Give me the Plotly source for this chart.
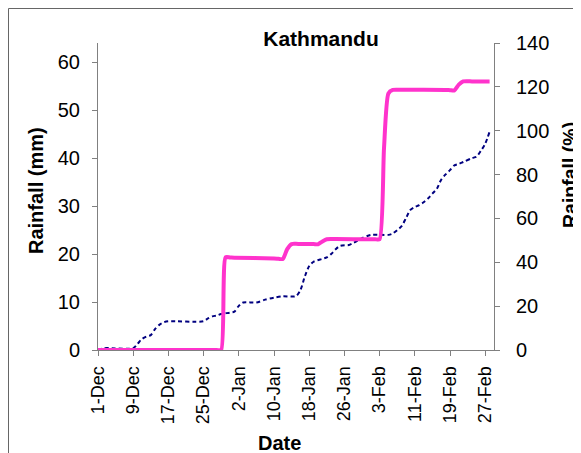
import plotly.graph_objects as go
from datetime import date, timedelta

# ---- data ----
start_date = date(2007, 12, 1)
end_date = date(2008, 2, 29)

# cumulative rainfall (mm), left axis; days counted from 1-Dec
rain_days = [0, 1, 2, 8, 9, 10, 11, 12, 13, 14, 15, 16, 24, 25, 26, 27, 28, 30, 31, 32,
             33, 36, 38, 40, 42, 45, 46, 47, 48, 49, 51, 52, 53, 54, 55, 57, 58, 59, 60,
             62, 66, 67, 68, 69, 70, 71, 72, 73, 74, 75, 76, 77, 78, 79, 80, 81, 82, 83,
             85, 86, 87, 88, 89]
rain_mm = [0, 0.3, 0.4, 0.4, 1.3, 2.3, 2.8, 3.1, 4.4, 5.3, 5.8, 6.0, 6.0, 6.6, 7.0, 7.2,
           7.5, 7.8, 8.0, 9.2, 9.9, 9.9, 10.5, 10.9, 11.2, 11.25, 12.5, 15.3, 17.5, 18.4,
           19.0, 19.3, 20.0, 21.0, 21.7, 21.9, 22.3, 22.8, 23.3, 24.0, 24.0, 24.3, 25.0,
           25.8, 27.5, 29.2, 29.8, 30.2, 30.8, 31.6, 32.6, 33.6, 35.5, 36.6, 37.5, 38.5,
           38.8, 39.2, 40.0, 40.3, 41.5, 43.0, 45.5]

# rainfall (% of normal), right axis
pct_days = [0, 26, 27, 28, 29, 30, 31, 40, 41, 42, 43, 44, 45, 46, 49, 50, 51, 52, 53,
            54, 62, 63, 64, 65, 66, 67, 68, 69, 79, 80, 81, 82, 83, 84, 85, 89]
pct_vals = [0, 0, 0, 0, 42.3, 42.2, 42.1, 41.7, 41.6, 41.5, 46.0, 48.3, 48.4, 48.3,
            48.3, 48.2, 49.5, 50.5, 50.6, 50.6, 50.5, 50.5, 50.5, 92.0, 117.0, 118.6,
            118.7, 118.7, 118.6, 118.5, 118.4, 121.0, 122.5, 122.6, 122.5, 122.5]

tick_dates = ["2007-12-01", "2007-12-09", "2007-12-17", "2007-12-25", "2008-01-02",
              "2008-01-10", "2008-01-18", "2008-01-26", "2008-02-03", "2008-02-11",
              "2008-02-19", "2008-02-27"]
tick_labels = ["1-Dec", "9-Dec", "17-Dec", "25-Dec", "2-Jan", "10-Jan", "18-Jan",
               "26-Jan", "3-Feb", "11-Feb", "19-Feb", "27-Feb"]

left_ticks = [0, 10, 20, 30, 40, 50, 60]
right_ticks = [0, 20, 40, 60, 80, 100, 120, 140]

rain_x = [start_date + timedelta(days=d) for d in rain_days]
pct_x = [start_date + timedelta(days=d) for d in pct_days]

fig = go.Figure()
fig.add_trace(go.Scatter(x=rain_x, y=rain_mm, mode="lines", yaxis="y",
                         line=dict(color="#000080", width=2, dash="4px,3px",
                                   shape="spline", smoothing=0.8),
                         name="Rainfall (mm)"))
fig.add_trace(go.Scatter(x=pct_x, y=pct_vals, mode="lines", yaxis="y2",
                         line=dict(color="#FF33CC", width=4, shape="spline", smoothing=0.6),
                         name="Rainfall (%)"))

axis_common = dict(showgrid=False, zeroline=False, showline=True, linecolor="#808080",
                   linewidth=1, ticks="outside", ticklen=5, tickcolor="#808080",
                   automargin=False)

# the page places the figure 8px in from the window's top-left corner
OFF = 8
W, H = 581 - OFF, 453 - OFF
# plot area in window pixels: x 98..494, y 43..350
PL, PR, PT, PB = 98, 494, 43, 350
L, R, T, B = PL - OFF, W - (PR - OFF), PT - OFF, H - (PB - OFF)
pw, ph = PR - PL, PB - PT

def px(xp):
    return (xp - PL) / pw

def py(yp):
    return (PB - yp) / ph

fig.update_layout(
    width=W, height=H,
    margin=dict(l=L, r=R, t=T, b=B, autoexpand=False),
    paper_bgcolor="white", plot_bgcolor="white",
    showlegend=False,
    font=dict(family="Liberation Sans, Arial, sans-serif", size=20, color="black"),
    title=dict(text="<b>Kathmandu</b>", font=dict(size=21), x=(321 - OFF) / W,
               xanchor="center", y=1 - (38.5 - OFF) / H, yanchor="middle",
               xref="container", yref="container"),
    xaxis=dict(type="date", range=[start_date, end_date], tickvals=tick_dates,
               ticktext=tick_labels, tickangle=-90, tickfont=dict(size=18, color="black"),
               ticklabelstandoff=3, **axis_common),
    yaxis=dict(range=[0, 64], tickvals=left_ticks, tickfont=dict(size=20, color="black"),
               ticklabelstandoff=8, **axis_common),
    yaxis2=dict(range=[0, 140], tickvals=right_ticks, overlaying="y", side="right",
                tickfont=dict(size=20, color="black"), ticklabelstandoff=12,
                **axis_common),
    shapes=[
        dict(type="line", xref="paper", yref="paper", x0=px(8.5), x1=px(8.5),
             y0=py(8.5), y1=py(470), line=dict(color="#666666", width=1), layer="below"),
        dict(type="line", xref="paper", yref="paper", x0=px(8.5), x1=px(600),
             y0=py(8.5), y1=py(8.5), line=dict(color="#666666", width=1), layer="below"),
    ],
    annotations=[
        dict(text="<b>Rainfall (mm)</b>", xref="paper", yref="paper", x=px(36), y=py(191),
             textangle=-90, showarrow=False, xanchor="center", yanchor="middle",
             font=dict(size=20)),
        dict(text="<b>Rainfall (%)</b>", xref="paper", yref="paper", x=px(570), y=py(175),
             textangle=-90, showarrow=False, xanchor="center", yanchor="middle",
             font=dict(size=19.5)),
        dict(text="<b>Date</b>", xref="paper", yref="paper", x=px(279.5), y=py(443),
             showarrow=False, xanchor="center", yanchor="middle", font=dict(size=20)),
    ],
)

fig.write_html("out.html")
